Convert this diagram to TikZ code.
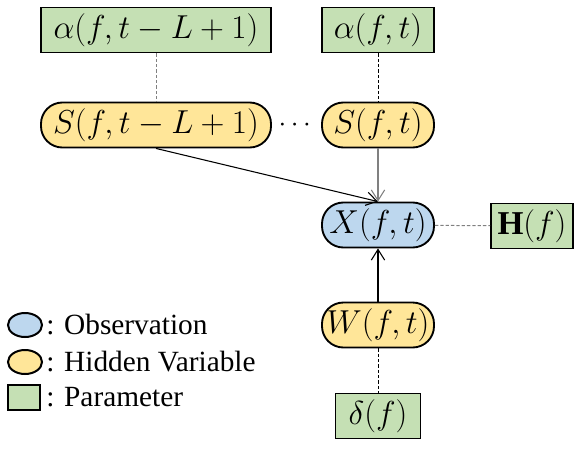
\documentclass[tikz,border=0pt]{standalone}
\usepackage{amsmath}
\usepackage{fontspec}
\setmainfont{Liberation Serif}
\usetikzlibrary{arrows.meta,shapes.geometric}
\definecolor{obsblue}{RGB}{189,215,238}
\definecolor{hidyellow}{RGB}{255,230,153}
\definecolor{pargreen}{RGB}{197,224,180}

\begin{document}
\begin{tikzpicture}[x=0.75pt,y=0.75pt,yscale=-1,xscale=1,
    every node/.style={inner sep=0pt,font=\fontsize{22}{26}\selectfont},
    var/.style={draw,line width=1.4pt,minimum height=33.75pt,font=\fontsize{25}{28}\selectfont},
    param/.style={var,fill=pargreen},
    hidden/.style={var,fill=hidyellow,rounded corners=16pt},
    observed/.style={var,fill=obsblue,rounded corners=16pt},
    link/.style={dash pattern={on 2.5pt off 1.5pt},line width=0.75pt},
    arr/.style={-{Straight Barb[length=8pt,width=10pt]},line width=0.8pt}]
    \useasboundingbox (0,0) rectangle (579,450);
    
    % Parameters
    \node [param,minimum width=172.5pt] (al) at (156,30) {$\alpha(f,t-L+1)$};
    \node [param,minimum width=84pt] (ar) at (378,30) {$\alpha(f,t)$};
    \node [param,minimum width=61.5pt] (h) at (532,226) {$\mathbf{H}(f)$};
    \node [param,minimum width=63.75pt] (d) at (378,416) {$\delta(f)$};
    % Hidden variables
    \node [hidden,minimum width=172.5pt] (sl) at (156,125) {$S(f,t-L+1)$};
    \node (dots) at (297,125) {$\cdots$};
    \node [hidden,minimum width=84pt] (sr) at (378,125) {$S(f,t)$};
    \node [hidden,minimum width=84pt] (w) at (378,325) {$W(f,t)$};
    % Observation
    \node [observed,minimum width=84pt] (x) at (378,225) {$X(f,t)$};
    
    % Links
    \draw [link,gray] (al) -- (sl);
    \draw [link] (ar) -- (sr);
    \draw [link,gray] (x) -- (h);
    \draw [link] (w) -- (d);
    % Arrows
    \draw [arr] (sl.south) -- (x.north);
    \draw [arr,gray] (sr) -- (x);
    \draw [arr] (w) -- (x);
    
    % Legend
    \node [ellipse,draw,line width=1.5pt,fill=obsblue,minimum width=25.5pt,minimum height=18pt] (lobs) at (25,325) {};
    \node [ellipse,draw,line width=1.5pt,fill=hidyellow,minimum width=25.5pt,minimum height=18pt] (lhid) at (25,362) {};
    \node [draw,line width=1.5pt,fill=pargreen,minimum width=24pt,minimum height=18.75pt] (lpar) at (24,397) {};
    \node [anchor=west] (tobs) at (46,325) {: Observation};
    \node [anchor=west] (thid) at (46,362) {: Hidden Variable};
    \node [anchor=west] (tpar) at (46,397) {: Parameter};
    
\end{tikzpicture}
\end{document}
